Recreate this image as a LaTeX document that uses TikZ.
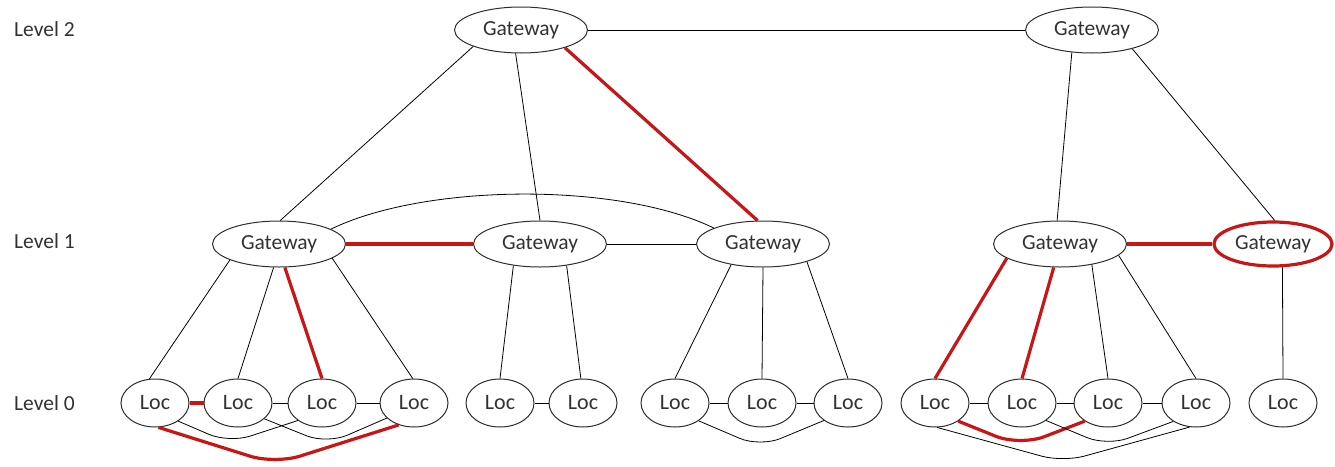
\documentclass[tikz,border=0pt]{standalone}
\usepackage{fontspec}
\setmainfont{Carlito}
\usetikzlibrary{shapes.geometric,calc}
\definecolor{lnkred}{RGB}{200,22,22}
\definecolor{txt}{RGB}{50,50,50}
\definecolor{bord}{RGB}{45,45,45}
\begin{document}
\begin{tikzpicture}[x=1pt,y=-1pt,
  gw/.style={ellipse,draw=bord,line width=1pt,minimum width=133pt,minimum height=46pt,inner sep=0pt,text=txt,font=\fontsize{21.5}{24}\selectfont},
  loc/.style={ellipse,draw=bord,line width=1pt,minimum width=68pt,minimum height=48pt,inner sep=0pt,text=txt,font=\fontsize{22}{25}\selectfont},
  lvl/.style={anchor=west,inner sep=0pt,text=txt,font=\fontsize{21.5}{24}\selectfont},
  lk/.style={line width=0.8pt,draw=black},
  rl/.style={line width=3.2pt,draw=lnkred},
  arcline/.style={line width=0.8pt,draw=black,rounded corners=22pt},
  rarcline/.style={line width=3.2pt,draw=lnkred,rounded corners=26pt},
]
\useasboundingbox (0,0) rectangle (1335,466);

% level labels
\node[lvl] (lv2) at (14,29) {Level 2};
\node[lvl] (lv1) at (14,241) {Level 1};
\node[lvl] (lv0) at (14,403) {Level 0};

% level 2
\node[gw] (A) at (521,30) {Gateway};
\node[gw] (B) at (1092,30) {Gateway};

% level 1
\node[gw] (G1) at (279,244) {Gateway};
\node[gw] (G2) at (540,244) {Gateway};
\node[gw] (G3) at (763,244) {Gateway};
\node[gw] (G4) at (1060,244) {Gateway};
\node[gw,draw=lnkred,line width=3.2pt,minimum width=118pt,minimum height=44pt] (G5) at (1273,244) {Gateway};

% level 0
\foreach \n/\x in {1/155,2/238,3/322,4/414,5/500,6/583,7/675,8/762,9/848,10/935,11/1022,12/1108,13/1196,14/1283}
  \node[loc] (L\n) at (\x,403) {Loc};

% level 2 links
\draw[lk] (A) -- (B);
\draw[lk] (A.199) -- (G1.87);
\draw[lk] (A.257) -- (G2.90);
\draw[rl] (A.338) -- (G3.103);
\draw[lk] (B.228) -- (G4.97);
\draw[lk] (B.335) -- (G5.86);

% level 1 links
\draw[rl] (G1) -- (G2);
\draw[lk] (G2) -- (G3);
\draw[rl] (G4) -- (G5);
\draw[lk] (G1.16) .. controls +(95,-46) and +(-95,-46) .. (G3.162);

% gateway to loc
\draw[lk] (G1.198) -- (L1.103);
\draw[lk] (G1.257) -- (L2.90);
\draw[rl] (G1.284) -- (L3.90);
\draw[lk] (G1.345) -- (L4.93);
\draw[lk] (G2.219) -- (L5.90);
\draw[lk] (G2.321) -- (L6.95);
\draw[lk] (G3.213) -- (L7.90);
\draw[lk] (G3.270) -- (L8.90);
\draw[lk] (G3.338) -- (L9.90);
\draw[rl] (G4.195) -- (L10.90);
\draw[rl] (G4.255) -- (L11.90);
\draw[lk] (G4.327) -- (L12.90);
\draw[lk] (G4.349) -- (L13.90);
\draw[lk] (G5.292) -- (L14.90);

% loc to loc
\draw[rl] (L1) -- (L2);
\draw[lk] (L2) -- (L3);
\draw[lk] (L3) -- (L4);
\draw[lk] (L5) -- (L6);
\draw[lk] (L7) -- (L8);
\draw[lk] (L8) -- (L9);
\draw[lk] (L10) -- (L11);
\draw[lk] (L11) -- (L12);
\draw[lk] (L12) -- (L13);

% bottom arcs
\coordinate (b13) at (229,443);
\coordinate (b24) at (327,444);
\coordinate (b14) at (275,464);
\coordinate (b79) at (760,447);
\coordinate (b1012) at (1020,446);
\coordinate (b1113) at (1107,446);
\coordinate (b1013) at (1063,462);
\draw[arcline] (L1.322) -- (b13) -- (L3.216);
\draw[arcline] (L2.329) -- (b24) -- (L4.209);
\draw[rarcline] (L1.278) -- (b14) -- (L4.235);
\draw[arcline] (L7.323) -- (b79) -- (L9.216);
\draw[rarcline] (L10.322) -- (b1012) -- (L12.218);
\draw[arcline] (L11.324) -- (b1113) -- (L13.219);
\draw[arcline] (L10.275) -- (b1013) -- (L13.255);
\end{tikzpicture}
\end{document}
